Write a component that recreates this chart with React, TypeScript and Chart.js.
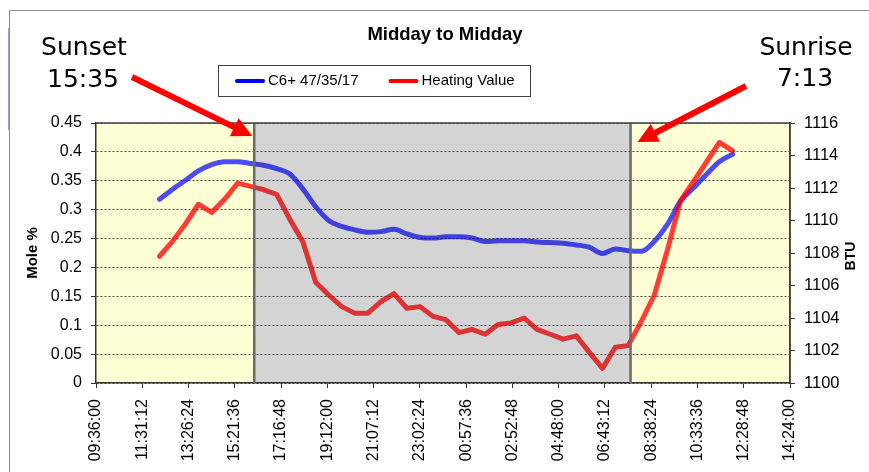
import { useEffect, useRef } from 'react';
import { Chart, registerables } from 'chart.js';

Chart.register(...registerables);

const W = 869;
const H = 472;

const TITLE = 'Midday to Midday';
const SERIES_NAMES = ['C6+ 47/35/17', 'Heating Value'];
const LEFT_AXIS_TITLE = 'Mole %';
const RIGHT_AXIS_TITLE = 'BTU';

const TIMES = [
  '12:14', '12:46', '13:19', '13:51', '14:24', '14:56', '15:29', '16:01', '16:33', '17:06',
  '17:38', '18:11', '18:43', '19:16', '19:48', '20:20', '20:53', '21:25', '21:58', '22:30',
  '23:03', '23:35', '00:07', '00:40', '01:12', '01:45', '02:17', '02:50', '03:22', '03:54',
  '04:27', '04:59', '05:32', '06:04', '06:37', '07:09', '07:41', '08:14', '08:46', '09:19',
  '09:51', '10:24', '10:56', '11:28', '12:01',
];

const C6_VALUES = [
  0.318, 0.335, 0.351, 0.367, 0.378, 0.383, 0.383, 0.38, 0.377, 0.371,
  0.362, 0.336, 0.305, 0.281, 0.271, 0.265, 0.261, 0.262, 0.266, 0.258,
  0.252, 0.251, 0.253, 0.253, 0.251, 0.245, 0.246, 0.246, 0.246, 0.244,
  0.243, 0.242, 0.239, 0.235, 0.224, 0.232, 0.229, 0.228, 0.245, 0.275,
  0.314, 0.338, 0.361, 0.383, 0.396,
];

const HEATING_VALUES = [
  1107.8, 1108.7, 1109.8, 1111.0, 1110.5, 1111.3, 1112.3, 1112.1, 1111.9, 1111.6,
  1110.1, 1108.7, 1106.2, 1105.4, 1104.7, 1104.3, 1104.3, 1105.0, 1105.5, 1104.6,
  1104.7, 1104.1, 1103.9, 1103.1, 1103.3, 1103.0, 1103.6, 1103.7, 1104.0, 1103.3,
  1103.0, 1102.7, 1102.9, 1101.9, 1100.9, 1102.2, 1102.3, 1103.8, 1105.4, 1108.2,
  1111.2, 1112.4, 1113.6, 1114.8, 1114.3,
];

const X_TICK_LABELS = [
  '09:36:00', '11:31:12', '13:26:24', '15:21:36', '17:16:48', '19:12:00', '21:07:12', '23:02:24',
  '00:57:36', '02:52:48', '04:48:00', '06:43:12', '08:38:24', '10:33:36', '12:28:48', '14:24:00',
];

const LEFT_MIN = 0;
const LEFT_MAX = 0.45;
const LEFT_STEP = 0.05;
const RIGHT_MIN = 1100;
const RIGHT_MAX = 1116;
const RIGHT_STEP = 2;

// night (shaded) period boundaries
const SHADE_TIMES = ['16:10', '07:47'];
const SUNSET_NOTE = ['Sunset', '15:35'];
const SUNRISE_NOTE = ['Sunrise', '7:13'];

function toHoursSeq(list: string[]): number[] {
  let day = 0;
  let prev = -Infinity;
  return list.map((s) => {
    const p = s.split(':').map(Number);
    let h = p[0] + (p[1] || 0) / 60 + (p[2] || 0) / 3600 + day * 24;
    if (h < prev) {
      day += 1;
      h += 24;
    }
    prev = h;
    return h;
  });
}

const X_TICK_HOURS = toHoursSeq(X_TICK_LABELS);
const TIME_HOURS = toHoursSeq([X_TICK_LABELS[0], ...TIMES]).slice(1);
const SHADE_HOURS = toHoursSeq([X_TICK_LABELS[0], ...SHADE_TIMES]).slice(1);

const SANS = '"Liberation Sans", Arial, sans-serif';
const YELLOW = '#ffffd5';

function drawArrow(ctx: CanvasRenderingContext2D, x1: number, y1: number, x2: number, y2: number) {
  const ang = Math.atan2(y2 - y1, x2 - x1);
  const headLen = 20;
  const headHalf = 10;
  const bx = x2 - headLen * Math.cos(ang);
  const by = y2 - headLen * Math.sin(ang);
  ctx.save();
  ctx.strokeStyle = '#ff0000';
  ctx.fillStyle = '#ff0000';
  ctx.lineWidth = 6;
  ctx.lineCap = 'butt';
  ctx.beginPath();
  ctx.moveTo(x1, y1);
  ctx.lineTo(bx + 2 * Math.cos(ang), by + 2 * Math.sin(ang));
  ctx.stroke();
  ctx.beginPath();
  ctx.moveTo(x2, y2);
  ctx.lineTo(bx + headHalf * Math.sin(ang), by - headHalf * Math.cos(ang));
  ctx.lineTo(bx - headHalf * Math.sin(ang), by + headHalf * Math.cos(ang));
  ctx.closePath();
  ctx.fill();
  ctx.restore();
}

const decorPlugin = {
  id: 'decor',
  beforeDraw(chart: any) {
    const { ctx, chartArea: a, scales } = chart;
    const xs = scales.x.getPixelForValue(SHADE_HOURS[0]);
    const xe = scales.x.getPixelForValue(SHADE_HOURS[1]);
    ctx.save();
    ctx.fillStyle = '#ffffff';
    ctx.fillRect(0, 0, chart.width, chart.height);
    ctx.fillStyle = YELLOW;
    ctx.fillRect(a.left, a.top, a.right - a.left, a.bottom - a.top);
    ctx.fillStyle = '#f4f4f4';
    ctx.fillRect(xs, a.top, xe - xs, a.bottom - a.top);
    ctx.restore();
  },
  afterDatasetsDraw(chart: any) {
    const { ctx, chartArea: a, scales } = chart;
    const xs = scales.x.getPixelForValue(SHADE_HOURS[0]);
    const xe = scales.x.getPixelForValue(SHADE_HOURS[1]);
    ctx.save();
    ctx.globalCompositeOperation = 'multiply';
    ctx.fillStyle = 'rgb(222,222,222)';
    ctx.fillRect(xs, a.top, xe - xs, a.bottom - a.top);
    ctx.globalCompositeOperation = 'source-over';
    // boundary lines
    ctx.strokeStyle = '#6a6a6a';
    ctx.lineWidth = 2.5;
    [xs, xe].forEach((x) => {
      ctx.beginPath();
      ctx.moveTo(x, a.top);
      ctx.lineTo(x, a.bottom);
      ctx.stroke();
    });
    // top + right frame of plot
    ctx.strokeStyle = '#404040';
    ctx.lineWidth = 1.5;
    ctx.beginPath();
    ctx.moveTo(a.left, a.top);
    ctx.lineTo(a.right, a.top);
    ctx.lineTo(a.right, a.bottom);
    ctx.stroke();
    ctx.restore();
  },
  afterDraw(chart: any) {
    const { ctx, chartArea: a, scales } = chart;
    const xs = scales.x.getPixelForValue(SHADE_HOURS[0]);
    const xe = scales.x.getPixelForValue(SHADE_HOURS[1]);
    ctx.save();

    // outer frame
    ctx.strokeStyle = '#8c8c8c';
    ctx.lineWidth = 1;
    ctx.beginPath();
    ctx.moveTo(9.5, chart.height);
    ctx.lineTo(9.5, 10.5);
    ctx.lineTo(chart.width, 10.5);
    ctx.stroke();
    ctx.strokeStyle = '#a0a0d8';
    ctx.beginPath();
    ctx.moveTo(8.5, 28);
    ctx.lineTo(8.5, 130);
    ctx.stroke();

    // title
    ctx.fillStyle = '#000';
    ctx.font = `bold 18.5px ${SANS}`;
    ctx.textAlign = 'center';
    ctx.textBaseline = 'alphabetic';
    ctx.fillText(TITLE, (a.left + a.right) / 2 + 2, 40);

    // legend
    ctx.font = `15px ${SANS}`;
    const w1 = ctx.measureText(SERIES_NAMES[0]).width;
    const w2 = ctx.measureText(SERIES_NAMES[1]).width;
    const lx = 218;
    const ly = 65;
    const sample = 30;
    const bw = 17 + sample + 3 + w1 + 30 + sample + 3 + w2 + 15;
    ctx.strokeStyle = '#404040';
    ctx.lineWidth = 1;
    ctx.strokeRect(lx + 0.5, ly + 0.5, Math.round(bw), 31);
    const cy = ly + 16;
    const colors = ['#0000ff', '#ff0000'];
    let cx = lx + 17;
    [0, 1].forEach((i) => {
      ctx.strokeStyle = colors[i];
      ctx.lineWidth = 4;
      ctx.lineCap = 'round';
      ctx.beginPath();
      ctx.moveTo(cx + 2, cy);
      ctx.lineTo(cx + sample - 2, cy);
      ctx.stroke();
      ctx.fillStyle = '#000';
      ctx.textAlign = 'left';
      ctx.textBaseline = 'middle';
      ctx.fillText(SERIES_NAMES[i], cx + sample + 3, cy);
      cx += sample + 3 + (i === 0 ? w1 : w2) + 30;
    });

    // axis titles
    ctx.font = `bold 15px ${SANS}`;
    ctx.textAlign = 'center';
    ctx.textBaseline = 'middle';
    const midY = (a.top + a.bottom) / 2;
    ctx.save();
    ctx.translate(33, midY);
    ctx.rotate(-Math.PI / 2);
    ctx.fillText(LEFT_AXIS_TITLE, 0, 0);
    ctx.restore();
    ctx.font = `bold 14px ${SANS}`;
    ctx.save();
    ctx.translate(851, midY + 3);
    ctx.rotate(-Math.PI / 2);
    ctx.fillText(RIGHT_AXIS_TITLE, 0, 0);
    ctx.restore();

    // annotations
    ctx.font = '25px "DejaVu Sans", Verdana, sans-serif';
    ctx.textAlign = 'center';
    ctx.textBaseline = 'alphabetic';
    ctx.fillStyle = '#000';
    ctx.fillText(SUNSET_NOTE[0], 84, 55);
    ctx.fillText(SUNSET_NOTE[1], 83, 87);
    ctx.fillText(SUNRISE_NOTE[0], 806, 55);
    ctx.fillText(SUNRISE_NOTE[1], 805, 86);

    drawArrow(ctx, 132, 77, xs - 2, a.top + 13);
    drawArrow(ctx, 746, 86, xe + 7, a.top + 19);

    ctx.restore();
  },
};

export default function App() {
  const ref = useRef<HTMLCanvasElement | null>(null);

  useEffect(() => {
    if (!ref.current) return;
    const tickFont = { family: SANS, size: 16 };
    const chart = new Chart(ref.current, {
      type: 'line',
      data: {
        datasets: [
          {
            label: SERIES_NAMES[0],
            data: TIME_HOURS.map((x, i) => ({ x, y: C6_VALUES[i] })),
            yAxisID: 'y',
            borderColor: 'rgba(0,0,255,0.7)',
            backgroundColor: 'rgba(0,0,255,0.7)',
            borderWidth: 5,
            pointRadius: 0,
            cubicInterpolationMode: 'monotone',
            borderJoinStyle: 'round',
            borderCapStyle: 'round',
            order: 1,
          },
          {
            label: SERIES_NAMES[1],
            data: TIME_HOURS.map((x, i) => ({ x, y: HEATING_VALUES[i] })),
            yAxisID: 'y1',
            borderColor: 'rgba(255,0,0,0.76)',
            backgroundColor: 'rgba(255,0,0,0.76)',
            borderWidth: 5,
            pointRadius: 0,
            tension: 0,
            borderJoinStyle: 'round',
            borderCapStyle: 'round',
            order: 0,
          },
        ],
      },
      options: {
        animation: false,
        responsive: false,
        devicePixelRatio: 1,
        layout: { padding: { top: 123, left: 0, right: 0, bottom: 0 } },
        plugins: {
          legend: { display: false },
          title: { display: false },
          tooltip: { enabled: false },
        },
        scales: {
          x: {
            type: 'linear',
            min: X_TICK_HOURS[0],
            max: X_TICK_HOURS[X_TICK_HOURS.length - 1],
            afterBuildTicks: (s: any) => {
              s.ticks = X_TICK_HOURS.map((v) => ({ value: v }));
            },
            afterFit: (s: any) => {
              s.height = 89;
            },
            ticks: {
              autoSkip: false,
              minRotation: 90,
              maxRotation: 90,
              padding: 11,
              color: '#000',
              font: tickFont,
              callback: (_v: any, i: number) => X_TICK_LABELS[i],
            },
            grid: { drawOnChartArea: false, drawTicks: true, tickLength: 5, color: '#333' },
            border: { display: true, color: '#333', width: 1.5 },
          },
          y: {
            type: 'linear',
            position: 'left',
            min: LEFT_MIN,
            max: LEFT_MAX,
            afterFit: (s: any) => {
              s.width = 96;
            },
            ticks: {
              stepSize: LEFT_STEP,
              padding: 9,
              color: '#000',
              font: tickFont,
              callback: (v: any) => String(Number(Number(v).toFixed(2))),
            },
            grid: { color: '#4a4a4a', tickLength: 5, tickColor: '#333', tickBorderDash: [] },
            border: { display: true, color: '#333', width: 1.5, dash: [2, 2] },
          },
          y1: {
            type: 'linear',
            position: 'right',
            min: RIGHT_MIN,
            max: RIGHT_MAX,
            afterFit: (s: any) => {
              s.width = 79;
            },
            ticks: {
              stepSize: RIGHT_STEP,
              padding: 9,
              color: '#000',
              font: { family: SANS, size: 16.5 },
              callback: (v: any) => String(Math.round(Number(v))),
            },
            grid: { drawOnChartArea: false, tickLength: 5, color: '#333' },
            border: { display: true, color: '#333', width: 1.5 },
          },
        },
      },
      plugins: [decorPlugin],
    } as any);
    return () => chart.destroy();
  }, []);

  return (
    <div style={{ position: 'absolute', left: 0, top: 0, width: W, height: H, background: '#fff' }}>
      <canvas ref={ref} width={W} height={H} style={{ display: 'block', width: W, height: H }} />
    </div>
  );
}
